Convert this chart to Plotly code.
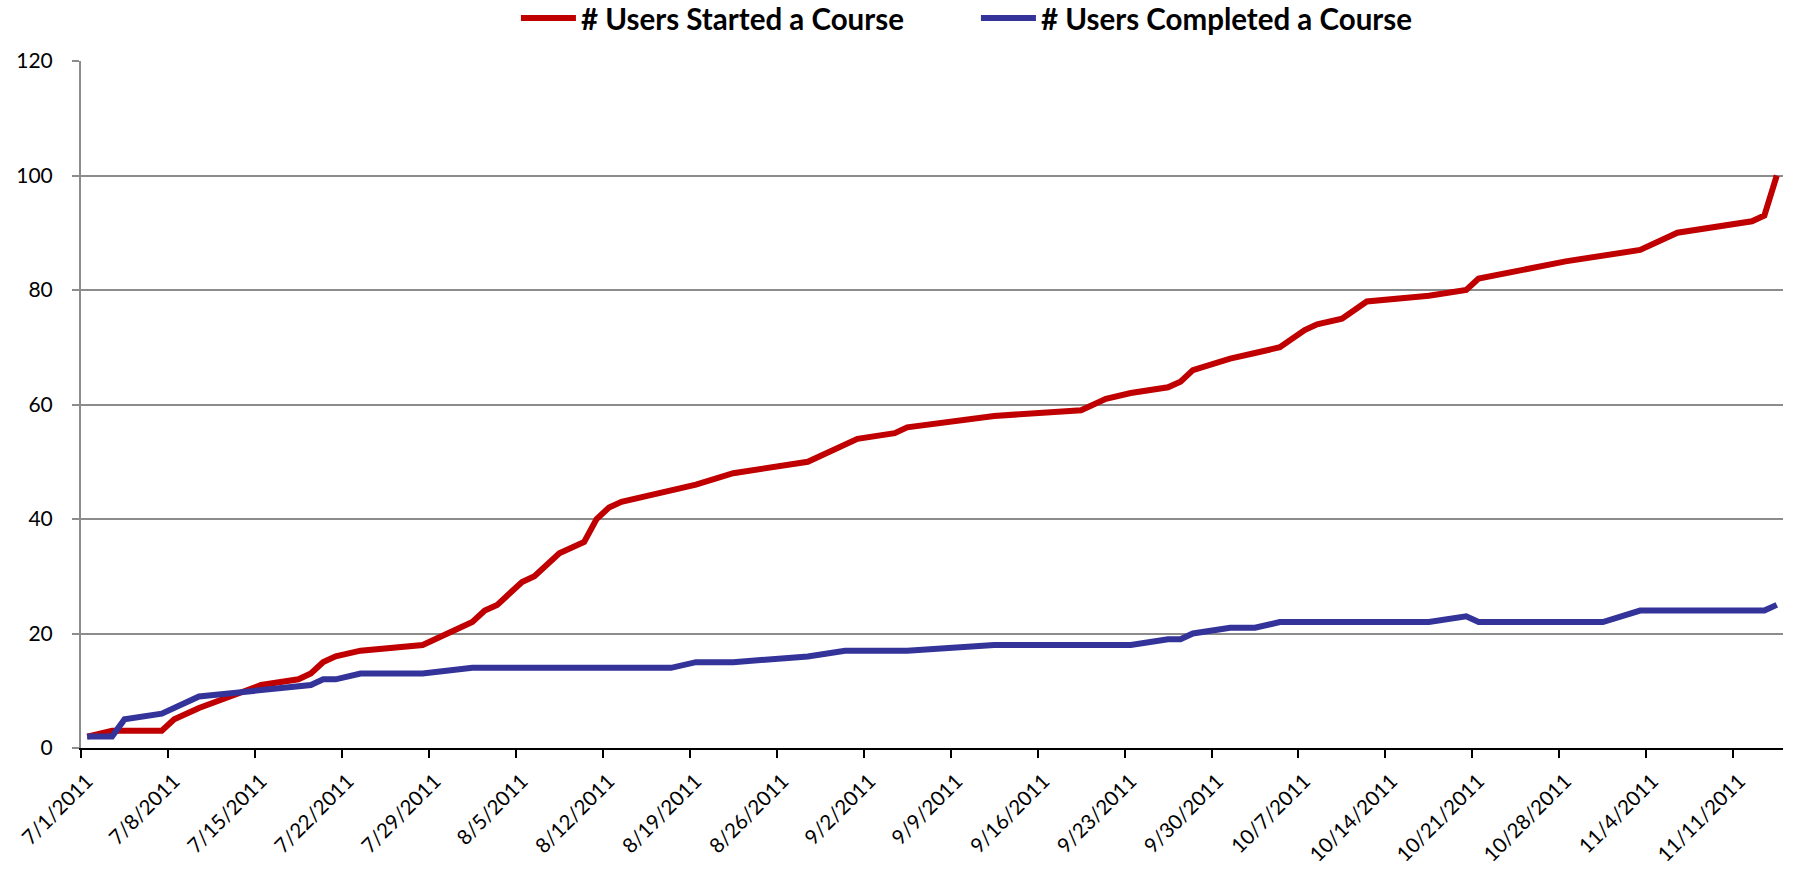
import pandas as pd
import plotly.graph_objects as go

# ---- data ----
started_dates = ["7/1/2011", "7/3/2011", "7/7/2011", "7/8/2011", "7/10/2011", "7/14/2011", "7/15/2011",
                 "7/18/2011", "7/19/2011", "7/20/2011", "7/21/2011", "7/23/2011", "7/28/2011", "8/1/2011",
                 "8/2/2011", "8/3/2011", "8/5/2011", "8/6/2011", "8/8/2011", "8/10/2011", "8/11/2011",
                 "8/12/2011", "8/13/2011", "8/19/2011", "8/22/2011", "8/28/2011", "9/1/2011", "9/4/2011",
                 "9/5/2011", "9/12/2011", "9/19/2011", "9/21/2011", "9/23/2011", "9/26/2011", "9/27/2011",
                 "9/28/2011", "10/1/2011", "10/3/2011", "10/5/2011", "10/7/2011", "10/8/2011", "10/10/2011",
                 "10/12/2011", "10/17/2011", "10/20/2011", "10/21/2011", "10/26/2011", "10/28/2011",
                 "11/3/2011", "11/6/2011", "11/12/2011", "11/13/2011", "11/14/2011"]
started_values = [2, 3, 3, 5, 7, 10, 11, 12, 13, 15, 16, 17, 18, 22, 24, 25, 29, 30, 34, 36, 40,
                  42, 43, 46, 48, 50, 54, 55, 56, 58, 59, 61, 62, 63, 64, 66, 68, 69, 70, 73, 74, 75,
                  78, 79, 80, 82, 84, 85, 87, 90, 92, 93, 100]

completed_dates = ["7/1/2011", "7/3/2011", "7/4/2011", "7/7/2011", "7/10/2011", "7/14/2011", "7/15/2011",
                   "7/18/2011", "7/19/2011", "7/20/2011", "7/21/2011", "7/23/2011", "7/28/2011", "8/1/2011",
                   "8/17/2011", "8/19/2011", "8/22/2011", "8/28/2011", "8/31/2011", "9/5/2011", "9/12/2011",
                   "9/23/2011", "9/26/2011", "9/27/2011", "9/28/2011", "10/1/2011", "10/3/2011", "10/5/2011",
                   "10/17/2011", "10/20/2011", "10/21/2011", "10/31/2011", "11/3/2011", "11/13/2011",
                   "11/14/2011"]
completed_values = [2, 2, 5, 6, 9, 10, 10, 11, 11, 12, 12, 13, 13, 14, 14, 15, 15, 16, 17, 17, 18,
                    18, 19, 19, 20, 21, 21, 22, 22, 23, 22, 22, 24, 24, 25]

tick_labels = ["7/1/2011", "7/8/2011", "7/15/2011", "7/22/2011", "7/29/2011", "8/5/2011", "8/12/2011",
               "8/19/2011", "8/26/2011", "9/2/2011", "9/9/2011", "9/16/2011", "9/23/2011", "9/30/2011",
               "10/7/2011", "10/14/2011", "10/21/2011", "10/28/2011", "11/4/2011", "11/11/2011"]
y_ticks = [0, 20, 40, 60, 80, 100, 120]

series_names = ["# Users Started a Course", "# Users Completed a Course"]
# ---------------------------------------

RED = "#C00000"
BLUE = "#333399"
FONT = "Lato"

fmt = "%m/%d/%Y"
xs_started = pd.to_datetime(started_dates, format=fmt)
xs_completed = pd.to_datetime(completed_dates, format=fmt)
half_day = pd.Timedelta(hours=12)
tickvals = pd.to_datetime(tick_labels, format=fmt) - half_day  # date axis "between" ticks
x_start = xs_started.min() - half_day
x_end = max(xs_started.max(), xs_completed.max()) + half_day

fig = go.Figure()
fig.add_trace(go.Scatter(x=xs_started, y=started_values, mode="lines", name=series_names[0],
                         line=dict(color=RED, width=6)))
fig.add_trace(go.Scatter(x=xs_completed, y=completed_values, mode="lines", name=series_names[1],
                         line=dict(color=BLUE, width=6)))

fig.update_layout(
    width=1794, height=875,
    margin=dict(l=81, r=11, t=61, b=127, autoexpand=False),
    paper_bgcolor="white", plot_bgcolor="white",
    font=dict(family=FONT, size=21, color="black"),
    showlegend=True,
    legend=dict(orientation="h", xref="container", yref="container",
                x=0.544, xanchor="center", y=0.979, yanchor="middle",
                font=dict(family=FONT, size=29.5, color="black", weight="bold"),
                itemwidth=55, entrywidth=390, entrywidthmode="pixels",
                bgcolor="rgba(0,0,0,0)"),
    xaxis=dict(
        range=[x_start, x_end], automargin=False,
        tickmode="array", tickvals=tickvals, ticktext=tick_labels,
        tickangle=-45, tickfont=dict(family=FONT, size=20.5, color="black"),
        ticklabelposition="outside", ticklabelshift=6, ticklabelstandoff=3,
        showgrid=False, zeroline=False,
        showline=True, linecolor="black", linewidth=2,
        ticks="outside", ticklen=8, tickwidth=2, tickcolor="black",
    ),
    yaxis=dict(
        range=[0, 120], automargin=False, tickmode="array", tickvals=y_ticks,
        ticklabelposition="outside", ticklabelstandoff=15,
        tickfont=dict(family=FONT, size=21, color="black"),
        showgrid=True, gridcolor="#8C8C8C", gridwidth=1.5,
        zeroline=False,
        showline=True, linecolor="#8C8C8C", linewidth=2,
        ticks="outside", ticklen=7, tickwidth=1.5, tickcolor="#8C8C8C",
    ),
)

fig.write_html("out.html", config={"displayModeBar": False},
               post_script="document.body.style.margin='0';document.body.style.overflow='hidden';")
